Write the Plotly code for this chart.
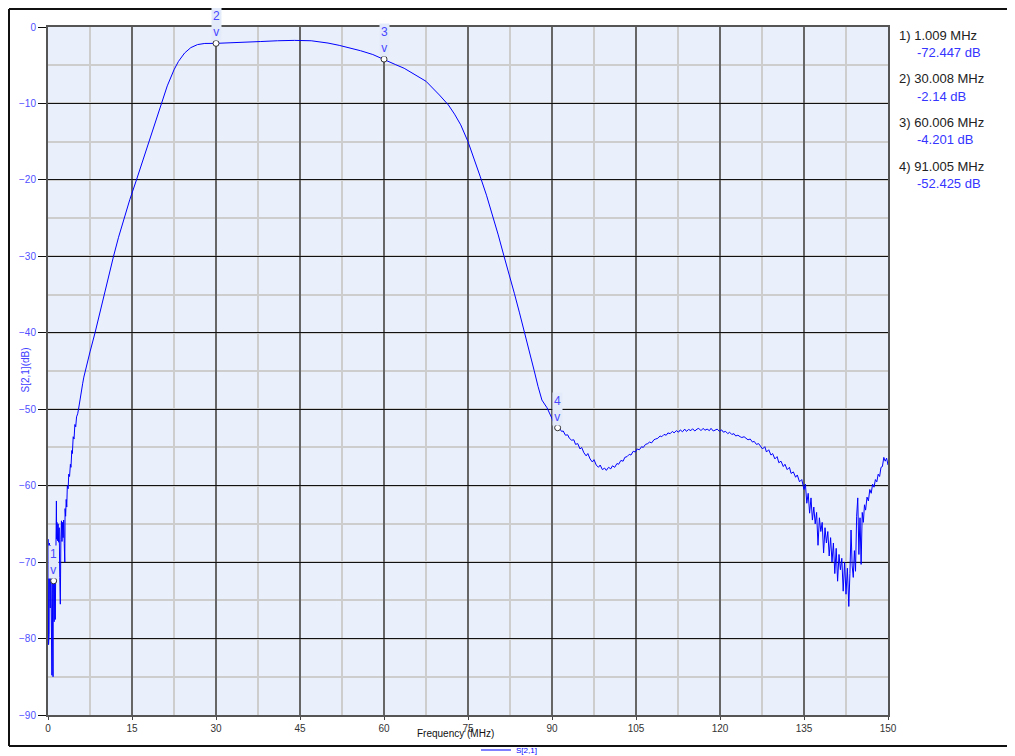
import plotly.graph_objects as go

# S21 sweep (MHz, dB)
low_f = [0.05, 0.10, 0.15, 0.20, 0.25, 0.30, 0.40, 0.45, 0.50, 0.55, 0.60, 0.70, 0.75, 0.80,
         0.90, 0.95, 1.009, 1.10, 1.20, 1.30, 1.40, 1.50, 1.55, 1.60, 1.70, 1.80, 1.90, 2.00,
         2.10, 2.20, 2.30, 2.40, 2.50, 2.60, 2.70, 2.80, 2.90, 3.00, 3.05, 3.15, 3.25, 3.35,
         3.45, 3.60, 3.70, 3.85, 4.00, 4.10, 4.25, 4.35, 4.50, 4.65, 4.80, 4.95, 5.10, 5.30,
         5.45, 5.60, 5.75, 5.90, 6.10, 6.20, 6.40]
low_db = [-67.0, -80.8, -68.0, -79.5, -67.5, -72.0, -76.0, -67.8, -73.5, -71.5, -78.0, -84.8, -72.5, -76.5,
          -85.0, -72.6, -72.447, -77.8, -72.3, -77.5, -72.0, -62.0, -67.0, -64.8, -67.2, -65.0, -67.4, -65.5,
          -72.0, -75.5, -67.0, -64.6, -67.3, -64.8, -66.8, -64.5, -67.6, -70.0, -63.0, -64.0, -61.8, -62.8,
          -60.0, -60.4, -58.5, -58.8, -57.2, -57.6, -55.4, -55.8, -53.6, -53.9, -52.0, -52.3, -51.0, -50.6,
          -50.0, -49.2, -48.6, -48.0, -47.0, -46.6, -45.8]

pass_f = [6.7, 7.5, 8.4, 9.2, 10.0, 10.8, 11.7, 12.6, 13.6, 14.6, 15.8, 16.9, 18.0, 19.1, 20.2,
          21.3, 22.5, 23.3, 24.4, 25.5, 26.7, 28.0, 30.008, 32.0, 35.0, 38.0, 41.0, 44.0, 47.0,
          50.0, 52.0, 54.0, 55.8, 58.0, 60.006, 62.0, 63.6, 65.5, 67.5, 69.9, 71.5, 72.6, 73.7,
          75.0, 76.1, 77.2, 78.3, 79.3, 80.4, 81.4, 82.4, 83.3, 84.2, 85.1, 86.0, 86.8, 87.5,
          88.2, 89.1, 90.0, 90.5]
pass_db = [-45.0, -42.5, -40.0, -37.5, -35.0, -32.5, -30.0, -27.5, -25.0, -22.6, -20.0, -17.5, -15.0, -12.5, -10.0,
           -7.7, -5.6, -4.5, -3.4, -2.7, -2.3, -2.15, -2.14, -2.1, -2.02, -1.9, -1.8, -1.75, -1.8,
           -2.1, -2.4, -2.75, -3.1, -3.6, -4.201, -4.9, -5.4, -6.2, -7.1, -8.9, -10.2, -11.4, -12.8,
           -15.0, -17.2, -19.6, -22.0, -24.4, -27.2, -29.9, -32.4, -34.9, -37.4, -39.9, -42.4, -44.9, -47.0,
           -48.8, -49.8, -51.2, -52.0]

stop_f = [91.005, 91.4, 91.7, 92.0, 92.4, 92.8, 93.1, 93.5, 93.9, 94.2, 94.6, 95.0, 95.3, 95.7,
          96.1, 96.4, 96.8, 97.2, 97.5, 97.9, 98.3, 98.6, 99.0, 99.4, 99.7, 100.1, 100.5, 100.8,
          101.2, 101.6, 101.9, 102.3, 102.7, 103.0, 103.4, 103.8, 104.1, 104.5, 104.9, 105.2,
          105.6, 106.0, 106.3, 106.7, 107.1, 107.4, 107.8, 108.2, 108.5, 108.9, 109.3, 109.6,
          110.0, 110.4, 110.7, 111.1, 111.5, 111.8, 112.2, 112.6, 112.9, 113.3, 113.7, 114.0,
          114.4, 114.8, 115.1, 115.5, 115.9, 116.2, 116.6, 117.0, 117.3, 117.7, 118.1, 118.4,
          118.8, 119.2, 119.5, 119.9, 120.3, 120.6, 121.0, 121.4, 121.7, 122.1, 122.5, 122.8,
          123.2, 123.6, 123.9, 124.3, 124.7, 125.0, 125.4, 125.8, 126.1, 126.5, 126.9, 127.2,
          127.6, 128.0, 128.3, 128.7, 129.1, 129.4, 129.8, 130.2, 130.5, 130.9, 131.3, 131.6,
          132.0, 132.4, 132.7, 133.1, 133.5, 133.8, 134.2, 134.6, 135.0, 135.25, 135.5, 135.75,
          136.0, 136.25, 136.5, 136.75, 137.0, 137.25, 137.5, 137.75, 138.0, 138.25, 138.5,
          138.75, 139.0, 139.25, 139.5, 139.75, 140.0, 140.25, 140.5, 140.75, 141.0, 141.25,
          141.5, 141.75, 142.0, 142.25, 142.5, 142.75, 143.0, 143.2, 143.4, 143.6, 143.8,
          144.0, 144.2, 144.4, 144.6, 144.8, 145.0, 145.2, 145.4, 145.6, 145.8, 146.0, 146.25,
          146.5, 146.75, 147.0, 147.25, 147.5, 147.75, 148.0, 148.25, 148.5, 148.75, 149.0,
          149.25, 149.5, 149.75, 150.0]
stop_db = [-52.425, -52.55, -52.9, -52.85, -53.4, -53.35, -53.8, -54.05, -54.0, -54.6, -54.5, -55.2,
           -55.0, -55.7, -56.1, -55.8, -56.5, -56.9, -56.6, -57.3, -57.6, -57.3, -57.9, -57.7,
           -58.0, -57.6, -57.8, -57.4, -57.6, -57.1, -57.2, -56.7, -56.8, -56.3, -56.2, -55.9,
           -56.0, -55.5, -55.6, -55.2, -55.3, -54.9, -55.0, -54.6, -54.5, -54.3, -54.4, -54.0,
           -53.9, -53.8, -53.5, -53.6, -53.3, -53.4, -53.1, -53.2, -52.9, -53.1, -52.8, -53.0,
           -52.7, -52.95, -52.6, -52.9, -52.65, -52.8, -52.55, -52.85, -52.6, -52.5, -52.8, -52.5,
           -52.75, -52.6, -52.8, -52.5, -52.85, -52.7, -52.6, -52.9, -52.7, -53.0, -52.9, -53.2,
           -53.0, -53.3, -53.2, -53.5, -53.4, -53.6, -53.7, -53.6, -53.9, -54.0, -53.9, -54.3,
           -54.2, -54.6, -54.5, -54.8, -55.2, -54.9, -55.6, -55.3, -56.0, -55.8, -56.5, -56.2,
           -57.0, -56.8, -57.5, -57.2, -57.9, -57.6, -58.4, -58.2, -58.9, -58.6, -59.5, -59.2,
           -60.5, -59.8, -62.3, -61.0, -63.6, -61.6, -64.5, -62.8, -65.0, -63.5, -67.8, -64.2,
           -66.0, -64.8, -68.8, -65.5, -67.5, -66.0, -69.2, -66.8, -70.0, -67.5, -71.5, -68.2,
           -72.5, -69.0, -71.0, -69.5, -73.8, -70.0, -74.2, -70.8, -75.8, -71.5, -65.8, -70.5,
           -72.0, -68.5, -71.2, -64.0, -61.6, -69.0, -64.2, -70.3, -63.5, -64.8, -62.5, -63.2,
           -61.5, -62.0, -60.5, -61.0, -59.8, -60.2, -59.2, -59.5, -58.5, -58.8, -57.6, -57.5,
           -56.3, -56.8, -56.4, -57.3]

marker_ids = ["1", "2", "3", "4"]
marker_f = [1.009, 30.008, 60.006, 91.005]
marker_db = [-72.447, -2.14, -4.201, -52.425]

x_ticks = [0, 15, 30, 45, 60, 75, 90, 105, 120, 135, 150]
y_ticks = [0, -10, -20, -30, -40, -50, -60, -70, -80, -90]

freq = low_f + pass_f + stop_f
s21 = low_db + pass_db + stop_db

BLUE = "#0000ff"
LABEL_BLUE = "#4848ff"
FONT = "Arial, Liberation Sans, sans-serif"

# The page keeps the browser's 8px body margin, so the figure is 1007x748 and
# sits 8px in. Margins are zero and the plot lives in an axis domain, so every
# layout position below is a fraction of the whole figure.
FW, FH, OFF = 1007, 748, 8


def px(p):
    return (p - OFF) / FW


def py(p):
    return 1 - (p - OFF) / FH


fig = go.Figure()
fig.add_trace(go.Scatter(x=freq, y=s21, mode="lines", name="S[2,1]",
                         line=dict(color=BLUE, width=1)))
fig.add_trace(go.Scatter(x=marker_f, y=marker_db, mode="markers", showlegend=False,
                         marker=dict(symbol="circle", size=6, color="white",
                                     line=dict(color="#333333", width=1))))

# marker flags above each point
for mid, f, d in zip(marker_ids, marker_f, marker_db):
    fig.add_annotation(x=f, y=d, xref="x", yref="y", text=f"{mid}<br>v", showarrow=False,
                       yanchor="bottom", yshift=2, bgcolor="#e3ebfa", borderpad=1,
                       font=dict(family=FONT, size=12, color=LABEL_BLUE))

# marker readout on the right
for i, (mid, f, d) in enumerate(zip(marker_ids, marker_f, marker_db)):
    fig.add_annotation(x=px(897), y=py(35 + 43.7 * i), xref="paper", yref="paper",
                       text=f"{mid}) {f} MHz", showarrow=False, xanchor="left", yanchor="middle",
                       font=dict(family=FONT, size=13, color="#222222"))
    fig.add_annotation(x=px(915), y=py(52.3 + 43.7 * i), xref="paper", yref="paper",
                       text=f"{d} dB", showarrow=False, xanchor="left", yanchor="middle",
                       font=dict(family=FONT, size=13, color="#3535ff"))

# axis titles, placed by hand
fig.add_annotation(x=px(18), y=py(370), xref="paper", yref="paper",
                   text="S[2,1](dB)", textangle=-90, showarrow=False,
                   font=dict(family=FONT, size=10, color="#4040ff"))
fig.add_annotation(x=px(455), y=py(741), xref="paper", yref="paper",
                   text="Frequency (MHz)", showarrow=False,
                   font=dict(family=FONT, size=10, color="#111111"))

# outer frame of the screenshot window
for x0, y0, x1, y1 in [(px(9), py(9), 1.0, py(9)),
                       (px(9), py(9), px(9), py(746)),
                       (px(9), py(746), 1.0, py(746))]:
    fig.add_shape(type="line", xref="paper", yref="paper", x0=x0, y0=y0, x1=x1, y1=y1,
                  line=dict(color="#111111", width=2))

fig.update_xaxes(range=[0, 150], tickvals=x_ticks, ticks="outside", ticklen=3, tickcolor="#444",
                 domain=[px(48), px(888)],
                 showgrid=True, gridcolor="#666666", gridwidth=2,
                 minor=dict(dtick=7.5, showgrid=True, gridcolor="#cdcdcd", gridwidth=2),
                 showline=True, linecolor="#555555", linewidth=2, mirror=True,
                 tickfont=dict(family=FONT, size=10, color="#333333"),
                 zeroline=False, automargin=False)
fig.update_yaxes(range=[-90, 0], tickvals=y_ticks, ticks="outside", ticklen=8, tickcolor="#111",
                 domain=[py(715), py(27)],
                 showgrid=True, gridcolor="#111111", gridwidth=1,
                 minor=dict(dtick=5, showgrid=True, gridcolor="#cdcdcd", gridwidth=2),
                 showline=True, linecolor="#555555", linewidth=2, mirror=True,
                 tickfont=dict(family=FONT, size=10, color="#5050ff"),
                 zeroline=False, automargin=False)

fig.update_layout(
    width=FW, height=FH,
    margin=dict(l=0, r=0, t=0, b=0, pad=0, autoexpand=False),
    paper_bgcolor="white", plot_bgcolor="#eaf0fb",
    showlegend=True,
    legend=dict(orientation="h", x=px(476), xanchor="left", y=py(750),
                yanchor="middle", font=dict(family=FONT, size=8, color=BLUE),
                bgcolor="rgba(0,0,0,0)", itemwidth=30),
)

fig.write_html("out.html", config={"displayModeBar": False})
